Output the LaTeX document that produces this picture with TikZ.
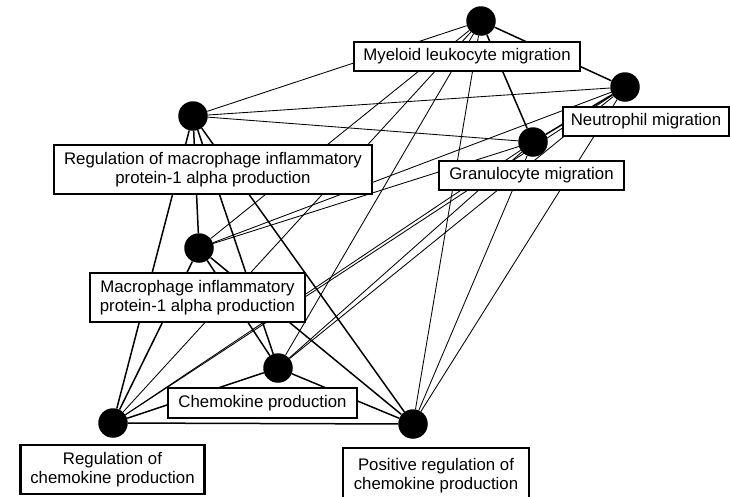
\documentclass[tikz,border=0pt]{standalone}
\usepackage{fontspec}
\setmainfont{Liberation Sans}
\begin{document}
\begin{tikzpicture}[x=1pt,y=-1pt,
  dot/.style={circle,fill=black,draw=none,minimum size=29.5pt,inner sep=0pt},
  lbl/.style={draw=black,fill=white,line width=2.2pt,align=center,inner sep=0pt,
    font=\fontsize{16.8}{19}\selectfont},
  strong/.style={line width=1.5pt},
  weak/.style={line width=0.85pt}]
\useasboundingbox (0,0) rectangle (730,496);
% dots
\node[dot] (A) at (481,21) {};
\node[dot] (B) at (625,87) {};
\node[dot] (C) at (533,142) {};
\node[dot] (D) at (193,116) {};
\node[dot] (E) at (199,248) {};
\node[dot] (F) at (278,368) {};
\node[dot] (G) at (113,423) {};
\node[dot] (H) at (413,424) {};
% thin edges
\foreach \u/\v in {A/D,A/E,A/F,A/G,A/H,B/D,B/E,B/F,B/G,B/H,C/D,C/E,C/F,C/G,C/H}
  \draw[weak] (\u) -- (\v);
% thick edges
\foreach \u/\v in {A/B,A/C,B/C,D/E,D/F,D/G,D/H,E/F,E/G,E/H,F/G,F/H,G/H}
  \draw[strong] (\u) -- (\v);
% labels
\node[lbl,minimum width=226pt,minimum height=29pt] (la) at (467,56.5) {Myeloid leukocyte migration};
\node[lbl,minimum width=166pt,minimum height=29pt] (lb) at (646,121.5) {Neutrophil migration};
\node[lbl,minimum width=185pt,minimum height=29pt] (lc) at (531.5,175.5) {Granulocyte migration};
\node[lbl,minimum width=318pt,minimum height=49pt] (ld) at (213,169.5) {Regulation of macrophage inflammatory\\protein-1 alpha production};
\node[lbl,minimum width=215pt,minimum height=49pt] (le) at (197.5,297.5) {Macrophage inflammatory\\protein-1 alpha production};
\node[lbl,minimum width=189pt,minimum height=30pt] (lf) at (262.5,403) {Chemokine production};
\node[lbl,minimum width=184pt,minimum height=49pt] (lg) at (112.5,469.5) {Regulation of\\chemokine production};
\node[lbl,minimum width=186pt,minimum height=56pt] (lh) at (436,476) {Positive regulation of\\chemokine production};
\end{tikzpicture}
\end{document}
